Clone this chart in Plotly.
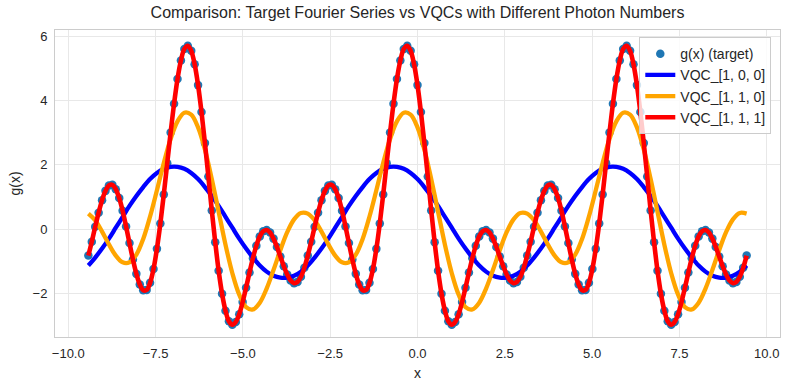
import numpy as np
import plotly.graph_objects as go

# ---- data (one value per sample, x from -3*pi to 3*pi) ----
target_x = np.linspace(-3 * np.pi, 3 * np.pi, 193)
target_g = [
    -0.83, -0.40, 0.07, 0.51, 0.90, 1.19, 1.36, 1.38, 1.24, 0.97, 0.57, 0.08, -0.44, -0.95, -1.40, -1.73,
    -1.91, -1.90, -1.68, -1.25, -0.62, 0.17, 1.08, 2.05, 3.01, 3.91, 4.68, 5.26, 5.62, 5.72, 5.56, 5.14,
    4.49, 3.65, 2.68, 1.64, 0.58, -0.41, -1.30, -2.02, -2.55, -2.88, -2.99, -2.90, -2.66, -2.28, -1.83, -1.36,
    -0.91, -0.52, -0.23, -0.07, -0.03, -0.11, -0.30, -0.56, -0.86, -1.16, -1.42, -1.61, -1.69, -1.65, -1.49, -1.21,
    -0.83, -0.40, 0.07, 0.51, 0.90, 1.19, 1.36, 1.38, 1.24, 0.97, 0.57, 0.08, -0.44, -0.95, -1.40, -1.73,
    -1.91, -1.90, -1.68, -1.25, -0.62, 0.17, 1.08, 2.05, 3.01, 3.91, 4.68, 5.26, 5.62, 5.72, 5.56, 5.14,
    4.49, 3.65, 2.68, 1.64, 0.58, -0.41, -1.30, -2.02, -2.55, -2.88, -2.99, -2.90, -2.66, -2.28, -1.83, -1.36,
    -0.91, -0.52, -0.23, -0.07, -0.03, -0.11, -0.30, -0.56, -0.86, -1.16, -1.42, -1.61, -1.69, -1.65, -1.49, -1.21,
    -0.83, -0.40, 0.07, 0.51, 0.90, 1.19, 1.36, 1.38, 1.24, 0.97, 0.57, 0.08, -0.44, -0.95, -1.40, -1.73,
    -1.91, -1.90, -1.68, -1.25, -0.62, 0.17, 1.08, 2.05, 3.01, 3.91, 4.68, 5.26, 5.62, 5.72, 5.56, 5.14,
    4.49, 3.65, 2.68, 1.64, 0.58, -0.41, -1.30, -2.02, -2.55, -2.88, -2.99, -2.90, -2.66, -2.28, -1.83, -1.36,
    -0.91, -0.52, -0.23, -0.07, -0.03, -0.11, -0.30, -0.56, -0.86, -1.16, -1.42, -1.61, -1.69, -1.65, -1.49, -1.21,
    -0.83,
]

vqc_111_x = np.linspace(-3 * np.pi, 3 * np.pi, 193)
vqc_111 = [
    -0.83, -0.40, 0.07, 0.51, 0.90, 1.19, 1.36, 1.38, 1.24, 0.97, 0.57, 0.08, -0.44, -0.95, -1.40, -1.73,
    -1.91, -1.90, -1.68, -1.25, -0.62, 0.17, 1.08, 2.05, 3.01, 3.91, 4.68, 5.26, 5.62, 5.72, 5.56, 5.14,
    4.49, 3.65, 2.68, 1.64, 0.58, -0.41, -1.30, -2.02, -2.55, -2.88, -2.99, -2.90, -2.66, -2.28, -1.83, -1.36,
    -0.91, -0.52, -0.23, -0.07, -0.03, -0.11, -0.30, -0.56, -0.86, -1.16, -1.42, -1.61, -1.69, -1.65, -1.49, -1.21,
    -0.83, -0.40, 0.07, 0.51, 0.90, 1.19, 1.36, 1.38, 1.24, 0.97, 0.57, 0.08, -0.44, -0.95, -1.40, -1.73,
    -1.91, -1.90, -1.68, -1.25, -0.62, 0.17, 1.08, 2.05, 3.01, 3.91, 4.68, 5.26, 5.62, 5.72, 5.56, 5.14,
    4.49, 3.65, 2.68, 1.64, 0.58, -0.41, -1.30, -2.02, -2.55, -2.88, -2.99, -2.90, -2.66, -2.28, -1.83, -1.36,
    -0.91, -0.52, -0.23, -0.07, -0.03, -0.11, -0.30, -0.56, -0.86, -1.16, -1.42, -1.61, -1.69, -1.65, -1.49, -1.21,
    -0.83, -0.40, 0.07, 0.51, 0.90, 1.19, 1.36, 1.38, 1.24, 0.97, 0.57, 0.08, -0.44, -0.95, -1.40, -1.73,
    -1.91, -1.90, -1.68, -1.25, -0.62, 0.17, 1.08, 2.05, 3.01, 3.91, 4.68, 5.26, 5.62, 5.72, 5.56, 5.14,
    4.49, 3.65, 2.68, 1.64, 0.58, -0.41, -1.30, -2.02, -2.55, -2.88, -2.99, -2.90, -2.66, -2.28, -1.83, -1.36,
    -0.91, -0.52, -0.23, -0.07, -0.03, -0.11, -0.30, -0.56, -0.86, -1.16, -1.42, -1.61, -1.69, -1.65, -1.49, -1.21,
    -0.83,
]

vqc_x = np.linspace(-3 * np.pi, 3 * np.pi, 97)
vqc_100 = [
    -1.14, -0.89, -0.61, -0.30, 0.04, 0.38, 0.72, 1.03, 1.31, 1.56, 1.75, 1.88, 1.94, 1.94, 1.88, 1.75,
    1.56, 1.31, 1.03, 0.72, 0.38, 0.04, -0.30, -0.61, -0.89, -1.14, -1.33, -1.46, -1.52, -1.52, -1.46, -1.33,
    -1.14, -0.89, -0.61, -0.30, 0.04, 0.38, 0.72, 1.03, 1.31, 1.56, 1.75, 1.88, 1.94, 1.94, 1.88, 1.75,
    1.56, 1.31, 1.03, 0.72, 0.38, 0.04, -0.30, -0.61, -0.89, -1.14, -1.33, -1.46, -1.52, -1.52, -1.46, -1.33,
    -1.14, -0.89, -0.61, -0.30, 0.04, 0.38, 0.72, 1.03, 1.31, 1.56, 1.75, 1.88, 1.94, 1.94, 1.88, 1.75,
    1.56, 1.31, 1.03, 0.72, 0.38, 0.04, -0.30, -0.61, -0.89, -1.14, -1.33, -1.46, -1.52, -1.52, -1.46, -1.33,
    -1.14,
]
vqc_110 = [
    0.48, 0.27, -0.08, -0.48, -0.83, -1.04, -1.04, -0.80, -0.31, 0.39, 1.21, 2.06, 2.81, 3.36, 3.63, 3.57,
    3.17, 2.48, 1.56, 0.54, -0.49, -1.38, -2.05, -2.44, -2.51, -2.30, -1.86, -1.28, -0.66, -0.10, 0.30, 0.50,
    0.48, 0.27, -0.08, -0.48, -0.83, -1.04, -1.04, -0.80, -0.31, 0.39, 1.21, 2.06, 2.81, 3.36, 3.63, 3.57,
    3.17, 2.48, 1.56, 0.54, -0.49, -1.38, -2.05, -2.44, -2.51, -2.30, -1.86, -1.28, -0.66, -0.10, 0.30, 0.50,
    0.48, 0.27, -0.08, -0.48, -0.83, -1.04, -1.04, -0.80, -0.31, 0.39, 1.21, 2.06, 2.81, 3.36, 3.63, 3.57,
    3.17, 2.48, 1.56, 0.54, -0.49, -1.38, -2.05, -2.44, -2.51, -2.30, -1.86, -1.28, -0.66, -0.10, 0.30, 0.50,
    0.48,
]

series_names = ["g(x) (target)", "VQC_[1, 0, 0]", "VQC_[1, 1, 0]", "VQC_[1, 1, 1]"]
x_ticks = [-10.0, -7.5, -5.0, -2.5, 0.0, 2.5, 5.0, 7.5, 10.0]
y_ticks = [-2, 0, 2, 4, 6]

FONT = "Liberation Sans, Arial, Helvetica, sans-serif"
TXT = "#262626"

fig = go.Figure()
fig.add_trace(go.Scatter(x=target_x, y=target_g, mode="markers", name=series_names[0],
                         marker=dict(size=8.5, color="#1f77b4", line=dict(width=0))))
fig.add_trace(go.Scatter(x=vqc_x, y=vqc_100, mode="lines", name=series_names[1],
                         line=dict(color="blue", width=4.3, shape="spline")))
fig.add_trace(go.Scatter(x=vqc_x, y=vqc_110, mode="lines", name=series_names[2],
                         line=dict(color="orange", width=4.3, shape="spline")))
fig.add_trace(go.Scatter(x=vqc_111_x, y=vqc_111, mode="lines", name=series_names[3],
                         line=dict(color="red", width=4.6, shape="spline")))

axis_common = dict(
    showgrid=True, gridcolor="#e8e8e8", gridwidth=1,
    showline=True, linecolor="#cccccc", linewidth=1, mirror=True,
    zeroline=False, ticks="outside", tickcolor="rgba(0,0,0,0)",
    tickfont=dict(family=FONT, size=13, color=TXT), automargin=False,
)

fig.update_layout(
    width=788, height=390,
    margin=dict(l=55, r=8, t=30, b=53),
    paper_bgcolor="white", plot_bgcolor="white",
    font=dict(family=FONT, size=13, color=TXT),
    title=dict(text="Comparison: Target Fourier Series vs VQCs with Different Photon Numbers",
               x=0.5, xref="paper", xanchor="center", y=1 - 12 / 390, yref="container",
               yanchor="middle", font=dict(family=FONT, size=16, color=TXT)),
    xaxis=dict(axis_common, range=[-10.38, 10.38], tickvals=x_ticks, tickformat=".1f", ticklen=4,
               title=dict(text="x", font=dict(family=FONT, size=14, color=TXT), standoff=8)),
    yaxis=dict(axis_common, range=[-3.37, 6.21], tickvals=y_ticks, ticklen=4,
               title=dict(text="g(x)", font=dict(family=FONT, size=14, color=TXT), standoff=8)),
    legend=dict(x=0.988, y=0.977, xanchor="right", yanchor="top",
                bgcolor="rgba(255,255,255,0.8)", bordercolor="#cccccc", borderwidth=1,
                font=dict(family=FONT, size=14, color=TXT), tracegroupgap=0),
    showlegend=True,
    hovermode=False,
)

fig.write_html(
    "out.html",
    config={"displayModeBar": False},
    post_script="document.body.style.margin='0';document.body.style.overflow='hidden';",
)
